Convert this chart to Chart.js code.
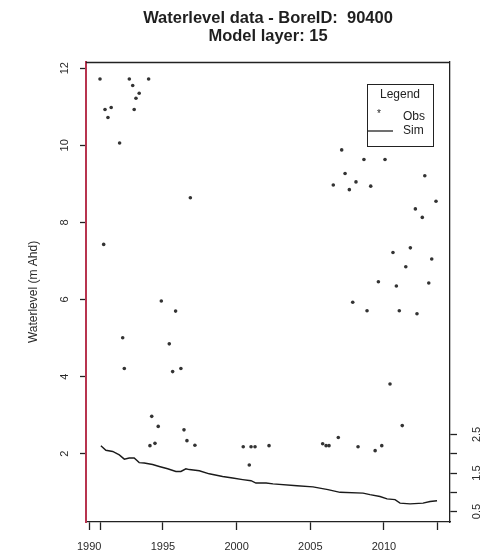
<!DOCTYPE html>
<html>
<head>
<meta charset="utf-8">
<script src="https://cdn.jsdelivr.net/npm/chart.js@4.4.1/dist/chart.umd.min.js"></script>
<style>
  html, body { margin: 0; padding: 0; background: #fff; }
  #wrap { width: 484px; height: 557px; position: relative; }
</style>
</head>
<body>
<div id="wrap"><canvas id="wlchart"></canvas></div>
<script>
// observed water levels (decimal year, m AHD)
var obsYears = [1990.73, 1990.98, 1991.07, 1991.27, 1991.49, 1992.06, 1992.27, 1992.38, 1992.72, 1992.95,
  1993.05, 1993.17, 1993.39, 1994.03, 1994.12, 1994.24, 1994.46, 1994.68, 1994.89, 1995.43,
  1995.66, 1995.86, 1996.22, 1996.43, 1996.63, 1996.86, 1997.17, 2000.45, 2000.86, 2000.98,
  2001.25, 2002.20, 2005.84, 2006.07, 2006.27, 2006.56, 2006.90, 2007.13, 2007.36, 2007.65,
  2007.88, 2008.10, 2008.24, 2008.64, 2008.85, 2009.10, 2009.40, 2009.62, 2009.85, 2010.07,
  2010.41, 2010.61, 2010.84, 2011.04, 2011.24, 2011.48, 2011.79, 2012.13, 2012.24, 2012.60,
  2012.77, 2013.04, 2013.24, 2013.53];
var obsLevels = [11.72, 7.43, 10.93, 10.72, 10.98, 10.06, 5.01, 4.21, 11.72, 11.55,
  10.93, 11.22, 11.35, 11.72, 2.21, 2.97, 2.27, 2.71, 5.96, 4.85,
  4.13, 5.70, 4.21, 2.62, 2.34, 8.64, 2.22, 2.18, 1.71, 2.18,
  2.18, 2.21, 2.26, 2.21, 2.21, 8.97, 2.42, 9.88, 9.27, 8.85,
  5.93, 9.05, 2.18, 9.63, 5.71, 8.94, 2.08, 6.46, 2.21, 9.63,
  3.81, 7.22, 6.35, 5.71, 2.73, 6.85, 7.34, 8.35, 5.63, 8.13,
  9.21, 6.43, 7.05, 8.55];

// simulated water levels
var simYears = [1990.79, 1991.13, 1991.59, 1992.04, 1992.38, 1992.71, 1993.05, 1993.39, 1993.73, 1994.30,
  1994.75, 1995.32, 1995.88, 1996.22, 1996.56, 1996.79, 1997.47, 1998.14, 1999.05, 1999.73,
  2000.41, 2000.98, 2001.31, 2002.00, 2002.47, 2004.10, 2005.18, 2006.20, 2007.02, 2008.58,
  2009.05, 2009.73, 2010.21, 2010.75, 2011.09, 2011.77, 2012.65, 2013.13, 2013.60];
var simLevels = [2.21, 2.09, 2.06, 1.97, 1.86, 1.89, 1.89, 1.77, 1.76, 1.72,
  1.67, 1.61, 1.54, 1.54, 1.61, 1.59, 1.56, 1.48, 1.41, 1.37,
  1.33, 1.30, 1.24, 1.24, 1.22, 1.17, 1.14, 1.07, 1.00, 0.98,
  0.94, 0.89, 0.83, 0.81, 0.72, 0.70, 0.72, 0.76, 0.78];

var xTickYears = [1990, 1995, 2000, 2005, 2010];
var leftTicks = [2, 4, 6, 8, 10, 12];
var rightTicks = [0.5, 1, 1.5, 2, 2.5];
var rightTickLabels = ['0.5', '', '1.5', '', '2.5'];

var FONT = "'Liberation Sans', Arial, sans-serif";
var yMin = 0.23, yMax = 12.16;

var obsData = obsYears.map(function (yr, i) { return {x: yr, y: obsLevels[i]}; });
var simData = simYears.map(function (yr, i) { return {x: yr, y: simLevels[i]}; });

// R-style box: top edge + legend
var boxAndLegend = {
  id: 'boxAndLegend',
  afterDraw: function (chart) {
    var c = chart.ctx, a = chart.chartArea;
    c.save();
    c.strokeStyle = '#222';
    c.lineWidth = 1.3;
    c.beginPath();
    c.moveTo(a.left, a.top + 0.5);
    c.lineTo(a.right, a.top + 0.5);
    c.stroke();

    var w = 66, h = 62;
    var lx = a.right - 17 - w, ly = a.top + 22;
    c.lineWidth = 1;
    c.strokeStyle = '#222';
    c.strokeRect(lx + 0.5, ly + 0.5, w, h);
    c.fillStyle = '#222';
    c.font = '12px ' + FONT;
    c.textBaseline = 'middle';
    c.textAlign = 'center';
    c.fillText('Legend', lx + w / 2, ly + 11);
    c.textAlign = 'left';
    c.fillText('Obs', lx + 36, ly + 33);
    c.fillText('Sim', lx + 36, ly + 47);
    c.font = '10px ' + FONT;
    c.textAlign = 'center';
    c.fillText('*', lx + 12, ly + 30);
    c.beginPath();
    c.moveTo(lx + 1, ly + 47);
    c.lineTo(lx + 26, ly + 47);
    c.lineWidth = 1.3;
    c.stroke();
    c.restore();
  }
};

var ctx = document.getElementById('wlchart').getContext('2d');
var myChart = new Chart(ctx, {
  type: 'scatter',
  data: {
    datasets: [{
      label: 'Obs',
      data: obsData,
      showLine: false,
      pointStyle: 'circle',
      pointRadius: 1.8,
      pointBackgroundColor: '#333',
      pointBorderWidth: 0,
      order: 1
    }, {
      label: 'Sim',
      data: simData,
      showLine: true,
      borderColor: '#1a1a1a',
      borderWidth: 1.4,
      pointRadius: 0,
      fill: false,
      order: 2
    }]
  },
  options: {
    responsive: true,
    maintainAspectRatio: false,
    animation: false,
    layout: { padding: 0 },
    plugins: {
      legend: { display: false },
      tooltip: { enabled: false },
      title: {
        display: true,
        fullSize: false,
        text: ['Waterlevel data - BoreID:  90400', 'Model layer: 15'],
        color: '#1f1f1f',
        font: { family: FONT, size: 16.5, weight: 'bold', lineHeight: 1.1 },
        padding: { top: 9, bottom: 16.7 }
      }
    },
    scales: {
      x: {
        type: 'linear',
        min: 1989.78,
        max: 2014.48,
        afterBuildTicks: function (scale) {
          var vals = [xTickYears[0], simYears[0]].concat(xTickYears.slice(1), [simYears[simYears.length - 1]]);
          scale.ticks = vals.map(function (v) { return {value: v}; });
        },
        afterFit: function (scale) { scale.height = 35; },
        ticks: {
          autoSkip: false,
          maxRotation: 0,
          padding: 10,
          color: '#2a2a2a',
          font: { family: FONT, size: 11 },
          callback: function (v) { return xTickYears.indexOf(v) >= 0 ? String(v) : ''; }
        },
        grid: { drawOnChartArea: false, drawTicks: true, tickLength: 8, tickColor: '#222', tickWidth: 1.3 },
        border: { display: true, color: '#222', width: 1.3 }
      },
      y: {
        position: 'left',
        min: yMin,
        max: yMax,
        afterBuildTicks: function (scale) {
          scale.ticks = leftTicks.map(function (v) { return {value: v}; });
        },
        afterFit: function (scale) { scale.width = 86; },
        ticks: {
          autoSkip: false,
          minRotation: 90,
          maxRotation: 90,
          crossAlign: 'center',
          padding: 9,
          color: '#2a2a2a',
          font: { family: FONT, size: 11 },
          callback: function (v) { return String(v); }
        },
        title: {
          display: true,
          text: 'Waterlevel (m Ahd)',
          color: '#2a2a2a',
          font: { family: FONT, size: 12 },
          padding: { top: 26, bottom: 0 }
        },
        grid: { drawOnChartArea: false, drawTicks: true, tickLength: 6, tickColor: '#222', tickWidth: 1.3 },
        border: { display: true, color: '#b8344f', width: 2 }
      },
      y2: {
        position: 'right',
        min: yMin,
        max: yMax,
        afterBuildTicks: function (scale) {
          scale.ticks = rightTicks.map(function (v) { return {value: v}; });
        },
        afterFit: function (scale) { scale.width = 34; },
        ticks: {
          autoSkip: false,
          minRotation: 90,
          maxRotation: 90,
          crossAlign: 'center',
          padding: 12,
          color: '#2a2a2a',
          font: { family: FONT, size: 11 },
          callback: function (v) {
            var i = rightTicks.indexOf(v);
            return i >= 0 ? rightTickLabels[i] : '';
          }
        },
        grid: { drawOnChartArea: false, drawTicks: true, tickLength: 7, tickColor: '#222', tickWidth: 1.3 },
        border: { display: true, color: '#222', width: 1.3 }
      }
    }
  },
  plugins: [boxAndLegend]
});
</script>
</body>
</html>
